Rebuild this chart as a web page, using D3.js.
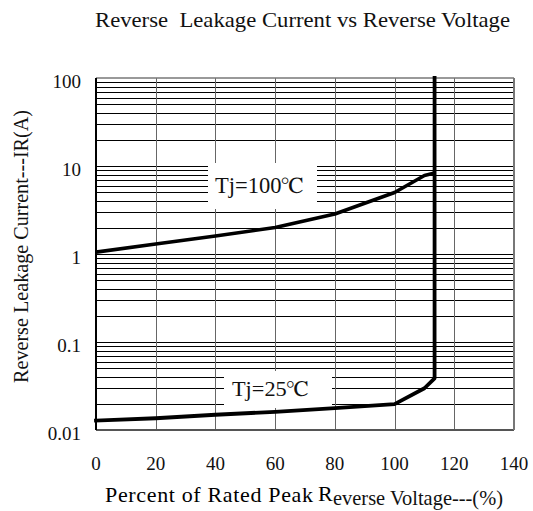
<!DOCTYPE html>
<html>
<head>
<meta charset="utf-8">
<script src="https://cdn.jsdelivr.net/npm/d3@7"></script>
<style>
  body { margin: 0; background: #fff; }
  svg text { font-family: "Liberation Serif", "Times New Roman", Tinos, serif; }
</style>
</head>
<body>
<svg id="chart" width="533" height="511"></svg>
<script>
// axis values
const x_ticks = [0, 20, 40, 60, 80, 100, 120, 140]
const y_ticks = [0.01, 0.1, 1, 10, 100]
const y_tick_labels = ["0.01", "0.1", "1", "10", "100"]

// Tj=100°C curve
const tj100_x = [0, 20, 40, 60, 80, 100, 110, 113.4]
const tj100_y = [1.05, 1.3, 1.6, 2.0, 2.85, 5.0, 7.8, 8.3]

// Tj=25°C curve, ends in the breakdown line going straight up
const tj25_x = [0, 20, 40, 60, 80, 100, 110, 113.4, 113.4]
const tj25_y = [0.0128, 0.0136, 0.0149, 0.0161, 0.0177, 0.0197, 0.0298, 0.0387, 100]

const serif = '"Liberation Serif"'

draw_chart()

function draw_chart() {
  let svg = d3.select("#chart")
  let left = 96, right = 514, top = 78, bottom = 430

  let x = d3.scaleLinear().domain([0, 140]).range([left, right])
  let y = d3.scaleLog().domain([0.01, 100]).range([bottom, top])
  let crisp = v => Math.round(v) + 0.5

  // horizontal log grid (black)
  let minor = []
  for (let d = 0; d < y_ticks.length - 1; d++) {
    for (let m = 1; m <= 9; m++) minor.push(y_ticks[d] * m)
  }
  svg.append("g").selectAll("line").data(minor).join("line")
    .attr("x1", left).attr("x2", right)
    .attr("y1", d => crisp(y(d))).attr("y2", d => crisp(y(d)))
    .attr("stroke", "#000").attr("stroke-width", 1)

  // vertical grid (gray)
  svg.append("g").selectAll("line").data(x_ticks.slice(1, -1)).join("line")
    .attr("x1", d => crisp(x(d))).attr("x2", d => crisp(x(d)))
    .attr("y1", top).attr("y2", bottom)
    .attr("stroke", "#666").attr("stroke-width", 1)

  // frame
  let frame = svg.append("g").attr("fill", "none")
  frame.append("line").attr("x1", left).attr("x2", right).attr("y1", top).attr("y2", top)
    .attr("stroke", "#777").attr("stroke-width", 1.5)
  frame.append("line").attr("x1", left).attr("x2", right).attr("y1", bottom).attr("y2", bottom)
    .attr("stroke", "#555").attr("stroke-width", 2)
  frame.append("line").attr("x1", right).attr("x2", right).attr("y1", top).attr("y2", bottom)
    .attr("stroke", "#777").attr("stroke-width", 2)
  frame.append("line").attr("x1", left).attr("x2", left).attr("y1", top).attr("y2", bottom)
    .attr("stroke", "#000").attr("stroke-width", 2)

  // white label boxes over the grid
  svg.append("rect").attr("x", 208).attr("y", 163).attr("width", 109).attr("height", 46).attr("fill", "#fff")
  svg.append("rect").attr("x", 224).attr("y", 371).attr("width", 108).attr("height", 37).attr("fill", "#fff")

  // curves
  let line = d3.line().x(d => x(d[0])).y(d => y(d[1]))
  svg.append("path").datum(d3.zip(tj100_x, tj100_y))
    .attr("d", line).attr("fill", "none").attr("stroke", "#000")
    .attr("stroke-width", 3.6).attr("stroke-linejoin", "round")
  svg.append("path").datum(d3.zip(tj25_x, tj25_y))
    .attr("d", line).attr("fill", "none").attr("stroke", "#000")
    .attr("stroke-width", 3.8).attr("stroke-linejoin", "round").attr("stroke-linecap", "square")

  // curve labels
  render_label(svg, 215, 193, "Tj=100", 23, 88)
  render_label(svg, 232, 396, "Tj=25", 22, 76)

  // tick labels
  svg.append("g").selectAll("text").data(y_ticks).join("text")
    .style("font-family", serif)
    .attr("x", left - 15).attr("y", d => y(d) + 10)
    .attr("text-anchor", "end").attr("font-size", 19).attr("fill", "#111")
    .text((d, i) => y_tick_labels[i])
  svg.append("g").selectAll("text").data(x_ticks).join("text")
    .style("font-family", serif)
    .attr("x", d => x(d)).attr("y", 470)
    .attr("text-anchor", "middle").attr("font-size", 19).attr("fill", "#111")
    .text(d => d)

  // title
  svg.append("text").style("font-family", serif).style("white-space", "pre")
    .attr("x", 95).attr("y", 27).attr("fill", "#111")
    .attr("font-size", 22).attr("textLength", 415).attr("lengthAdjust", "spacingAndGlyphs")
    .text("Reverse  Leakage Current vs Reverse Voltage")

  // y axis title
  svg.append("text").style("font-family", serif)
    .attr("transform", "translate(28,246.5) rotate(-90)")
    .attr("text-anchor", "middle").attr("fill", "#111")
    .attr("font-size", 22).attr("textLength", 273).attr("lengthAdjust", "spacingAndGlyphs")
    .text("Reverse Leakage Current---IR(A)")

  // x axis title, set in two sizes like the original
  svg.append("text").style("font-family", serif)
    .attr("x", 105).attr("y", 502).attr("fill", "#000")
    .attr("font-size", 22).attr("textLength", 208).attr("lengthAdjust", "spacing")
    .text("Percent of Rated Peak")
  svg.append("text").style("font-family", serif)
    .attr("x", 318).attr("y", 501).attr("fill", "#000")
    .attr("font-size", 22)
    .text("R")
  svg.append("text").style("font-family", serif)
    .attr("x", 333).attr("y", 505).attr("fill", "#111")
    .attr("font-size", 22).attr("textLength", 170).attr("lengthAdjust", "spacingAndGlyphs")
    .text("everse Voltage---(%)")
}

function render_label(svg, px, py, value, font_size, length){
  let t = svg.append("text").style("font-family", serif)
    .attr("x", px).attr("y", py).attr("fill", "#111")
    .attr("font-size", font_size).attr("textLength", length).attr("lengthAdjust", "spacingAndGlyphs")
  t.append("tspan").text(value)
  t.append("tspan").style("font-family", '"FreeSerif"').text("℃")
}
</script>
</body>
</html>
